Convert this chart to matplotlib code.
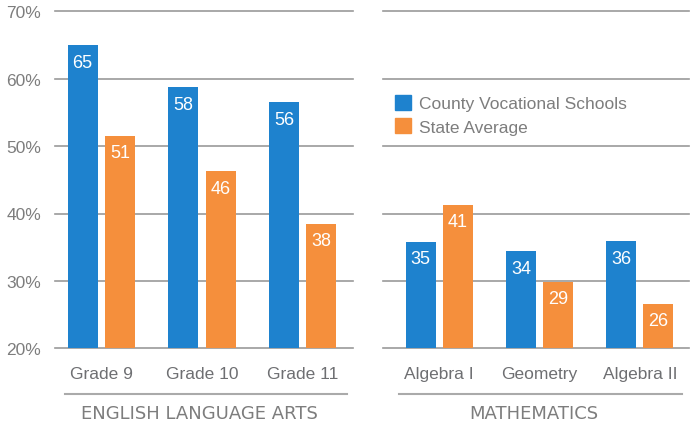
import matplotlib
matplotlib.use("Agg")
from matplotlib import pyplot as plt
from matplotlib.lines import Line2D
from matplotlib.patches import Patch
import numpy as np

plt.rcParams["font.family"] = ["Liberation Sans", "DejaVu Sans"]

ela_cats = ["Grade 9", "Grade 10", "Grade 11"]
ela_county = [65.0, 58.75, 56.5]
ela_state = [51.5, 46.3, 38.5]
ela_county_lbl = ["65", "58", "56"]
ela_state_lbl = ["51", "46", "38"]

math_cats = ["Algebra I", "Geometry", "Algebra II"]
math_county = [35.8, 34.4, 35.9]
math_state = [41.3, 29.9, 26.6]
math_county_lbl = ["35", "34", "36"]
math_state_lbl = ["41", "29", "26"]

yticks = [20, 30, 40, 50, 60, 70]
series = ["County Vocational Schools", "State Average"]

BLUE = "#1e82ce"
ORANGE = "#f58f3c"
GRID = "#9a9a9a"
TXT = "#7d7d7d"
CAT = "#6e6f72"

W, H = 695, 427
fig = plt.figure(figsize=(W / 100, H / 100), dpi=100)
ax1 = fig.add_axes([55 / W, 1 - 349.3 / H, 298 / W, 337 / H])
ax2 = fig.add_axes([383 / W, 1 - 349.3 / H, 306 / W, 337 / H])

bw = 0.3
off = 0.185


def panel(ax, cats, county, state, clbl, slbl, xlim):
    x = np.arange(len(cats))
    b1 = ax.bar(x - off, county, bw, color=BLUE, zorder=2)
    b2 = ax.bar(x + off, state, bw, color=ORANGE, zorder=2)
    for bars, lbls in ((b1, clbl), (b2, slbl)):
        for r, t in zip(bars, lbls):
            ax.annotate(t, (r.get_x() + r.get_width() / 2, r.get_height()),
                        xytext=(0, -17), textcoords="offset pixels",
                        ha="center", va="center", color="white",
                        fontsize=13, zorder=3)
    for v in yticks:
        ax.axhline(v, color=GRID, lw=1.2, zorder=1, clip_on=False)
    ax.set_ylim(20, 70)
    ax.set_xlim(*xlim)
    ax.set_xticks(x)
    ax.set_xticklabels(cats, fontsize=12.5, color=CAT)
    ax.tick_params(axis="x", length=0, pad=13)
    for s in ax.spines.values():
        s.set_visible(False)


panel(ax1, ela_cats, ela_county, ela_state, ela_county_lbl, ela_state_lbl, (-0.46, 2.5))
panel(ax2, math_cats, math_county, math_state, math_county_lbl, math_state_lbl, (-0.56, 2.49))

ax1.set_yticks(yticks)
ax1.set_yticklabels([f"{v}%" for v in yticks], fontsize=12.5, color=TXT)
ax1.tick_params(axis="y", length=0, pad=10)
ax2.set_yticks([])

# group underlines and section titles
fig.add_artist(Line2D([65 / W, 347 / W], [1 - 395 / H] * 2, color="#aaaaaa", lw=1.5))
fig.add_artist(Line2D([399 / W, 682 / W], [1 - 395 / H] * 2, color="#aaaaaa", lw=1.5))
fig.text(199 / W, 1 - 414 / H, "ENGLISH LANGUAGE ARTS", ha="center", va="center",
         fontsize=13, color=TXT, family="DejaVu Sans")
fig.text(534 / W, 1 - 414 / H, "MATHEMATICS", ha="center", va="center",
         fontsize=13, color=TXT, family="DejaVu Sans")

handles = [Patch(color=BLUE), Patch(color=ORANGE)]
fig.legend(handles, series, loc="upper left", bbox_to_anchor=(386 / W, 1 - 87 / H),
           frameon=False, fontsize=12.5, labelcolor=TXT, borderpad=0,
           handlelength=0.95, handleheight=0.95, handletextpad=0.45, labelspacing=0.4)

fig.savefig("out.png", dpi=100)
